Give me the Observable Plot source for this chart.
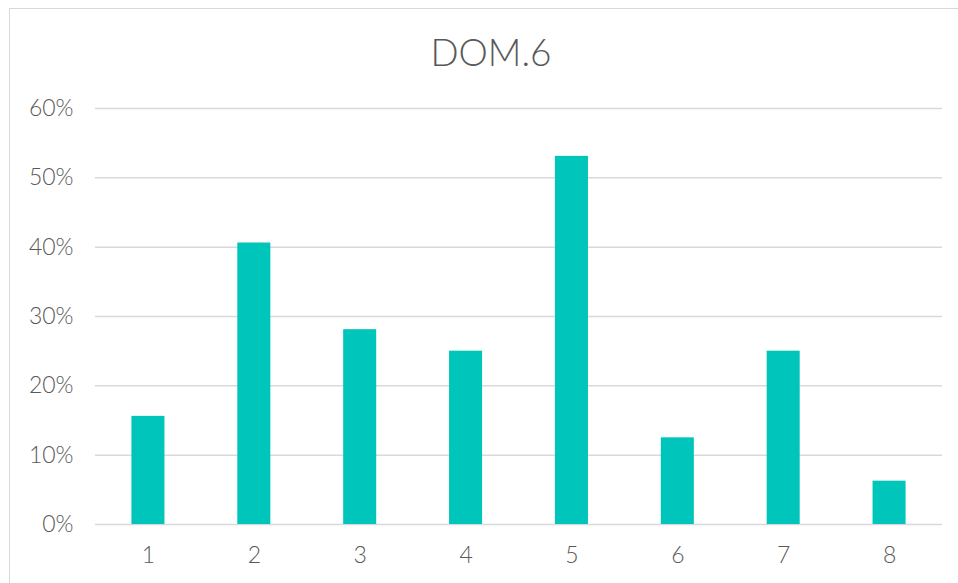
<!DOCTYPE html>
<html>
<head>
<meta charset="utf-8">
<script src="https://cdn.jsdelivr.net/npm/d3@7"></script>
<script src="https://cdn.jsdelivr.net/npm/@observablehq/plot@0.6"></script>
<style>
  html, body { margin: 0; padding: 0; background: #fff; overflow: hidden; }
  #wrap { position: relative; width: 958px; height: 583px; }
  #frame { position: absolute; left: 9px; top: 8px; width: 1000px; height: 700px; border: 1.5px solid #D9D9D9; box-sizing: border-box; }
  #title { position: absolute; left: 0; width: 982px; top: 29px; text-align: center; font-family: "Lato", sans-serif; font-weight: 300; font-size: 37px; color: #595959; line-height: 46px; }
  #chart { position: absolute; left: 0; top: 0; }
</style>
</head>
<body>
<div id="wrap">
  <div id="frame"></div>
  <div id="title">DOM.6</div>
  <div id="chart"></div>
</div>
<script>
const categories = ["1", "2", "3", "4", "5", "6", "7", "8"];
const values = [0.156, 0.406, 0.281, 0.25, 0.531, 0.125, 0.25, 0.0625];
const yTicks = [0, 0.1, 0.2, 0.3, 0.4, 0.5, 0.6];

const data = categories.map((c, i) => ({category: c, value: values[i]}));

const chart = Plot.plot({
  width: 958,
  height: 583,
  marginTop: 108,
  marginBottom: 59,
  marginLeft: 95,
  marginRight: 16,
  style: {fontFamily: "Lato, sans-serif", fontWeight: 300, color: "#595959", background: "transparent", overflow: "visible"},
  x: {domain: categories, paddingInner: 0.688, paddingOuter: 0.344, round: false, label: null},
  y: {domain: [0, 0.6], ticks: yTicks, label: null},
  marks: [
    Plot.gridY(yTicks, {stroke: "#D9D9D9", strokeOpacity: 1, strokeWidth: 1.5}),
    Plot.barY(data, {x: "category", y: "value", fill: "#00C5BA"}),
    Plot.axisY(yTicks, {tickSize: 0, tickPadding: 22, tickFormat: d => Math.round(d * 100) + "%", fontSize: 23, fill: "#595959", label: null}),
    Plot.axisX({tickSize: 0, tickPadding: 22, fontSize: 23, fill: "#595959", label: null})
  ]
});
document.getElementById("chart").appendChild(chart);
</script>
</body>
</html>
